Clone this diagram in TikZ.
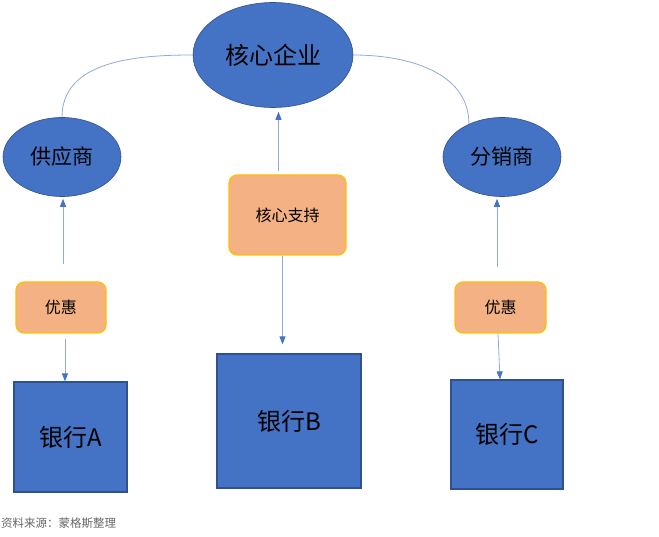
\documentclass[tikz,border=0pt]{standalone}
\usepackage{fontspec}
\setmainfont{Noto Sans CJK SC}
\usetikzlibrary{arrows.meta,calc}
\definecolor{bankblue}{HTML}{4472C4}
\definecolor{bankedge}{HTML}{2F528F}
\definecolor{linkblue}{HTML}{8FAADC}
\definecolor{tagfill}{HTML}{F4B183}
\definecolor{tagedge}{HTML}{FFC000}
\tikzset{
  party/.style={ellipse,fill=bankblue,draw=bankedge,line width=0.6pt,inner sep=0pt},
  bank/.style={rectangle,fill=bankblue,draw=bankedge,line width=1.2pt,inner sep=0pt,font=\fontsize{24}{28}\selectfont},
  tag/.style={rectangle,rounded corners=8pt,fill=tagfill,draw=tagedge,line width=1.2pt,inner sep=0pt,font=\fontsize{16}{19}\selectfont},
  link/.style={draw=linkblue,line width=0.8pt},
  arr/.style={link,-{Triangle[length=8pt,width=6pt,fill=bankblue,color=bankblue]}}
}
\usetikzlibrary{shapes.geometric}
\begin{document}
\begin{tikzpicture}[x=1pt,y=1pt]
  \useasboundingbox (0,0) rectangle (659,-537);
  \node[party,minimum width=160pt,minimum height=105pt,font=\fontsize{24}{28}\selectfont] (core) at (273,-55) {核心企业};
  \node[party,minimum width=118pt,minimum height=79pt,font=\fontsize{21}{25}\selectfont] (sup) at (62,-157) {供应商};
  \node[party,minimum width=118pt,minimum height=79pt,font=\fontsize{21}{25}\selectfont] (dist) at (502,-157) {分销商};
  \node[tag,minimum width=117pt,minimum height=80pt] (hx) at (287.5,-215) {核心支持};
  \node[tag,minimum width=90pt,minimum height=51pt] (yhL) at (61,-307.5) {优惠};
  \node[tag,minimum width=91pt,minimum height=51pt] (yhR) at (500.5,-307.5) {优惠};
  \node[bank,minimum width=113pt,minimum height=110pt] (bankA) at (70.5,-437) {银行A};
  \node[bank,minimum width=144pt,minimum height=134pt] (bankB) at (289,-421) {银行B};
  \node[bank,minimum width=112pt,minimum height=109pt] (bankC) at (507,-434.5) {银行C};
  \draw[link] (sup.north) to[out=90,in=180] (core.west);
  \draw[link] (core.east) to[out=0,in=90] (dist.135);
  \draw[arr,shorten <=17pt,shorten >=2pt] ([xshift=2pt]yhL.north) -- ([xshift=2pt]yhL.north |- sup.south);
  \draw[arr,shorten <=5pt] ([xshift=4pt]yhL.south) -- ([xshift=4pt]yhL.south |- bankA.north);
  \draw[arr,shorten <=3pt,shorten >=4pt] ([xshift=-9pt]hx.north) -- ([xshift=-9pt]hx.north |- core.south);
  \draw[arr,shorten >=9pt] ([xshift=-5pt]hx.south) -- ([xshift=-5pt]hx.south |- bankB.north);
  \draw[arr,shorten <=14pt,shorten >=2pt] ([xshift=-3.5pt]yhR.north) -- ([xshift=-3.5pt]yhR.north |- dist.south);
  \draw[arr] ([xshift=-2.5pt]yhR.south) -- ([xshift=-0.5pt]yhR.south |- bankC.north);
  \node[anchor=west,inner sep=0pt,text=black!60,font=\fontsize{11.5}{14}\selectfont] (src) at (1,-523) {资料来源：蒙格斯整理};
\end{tikzpicture}
\end{document}
